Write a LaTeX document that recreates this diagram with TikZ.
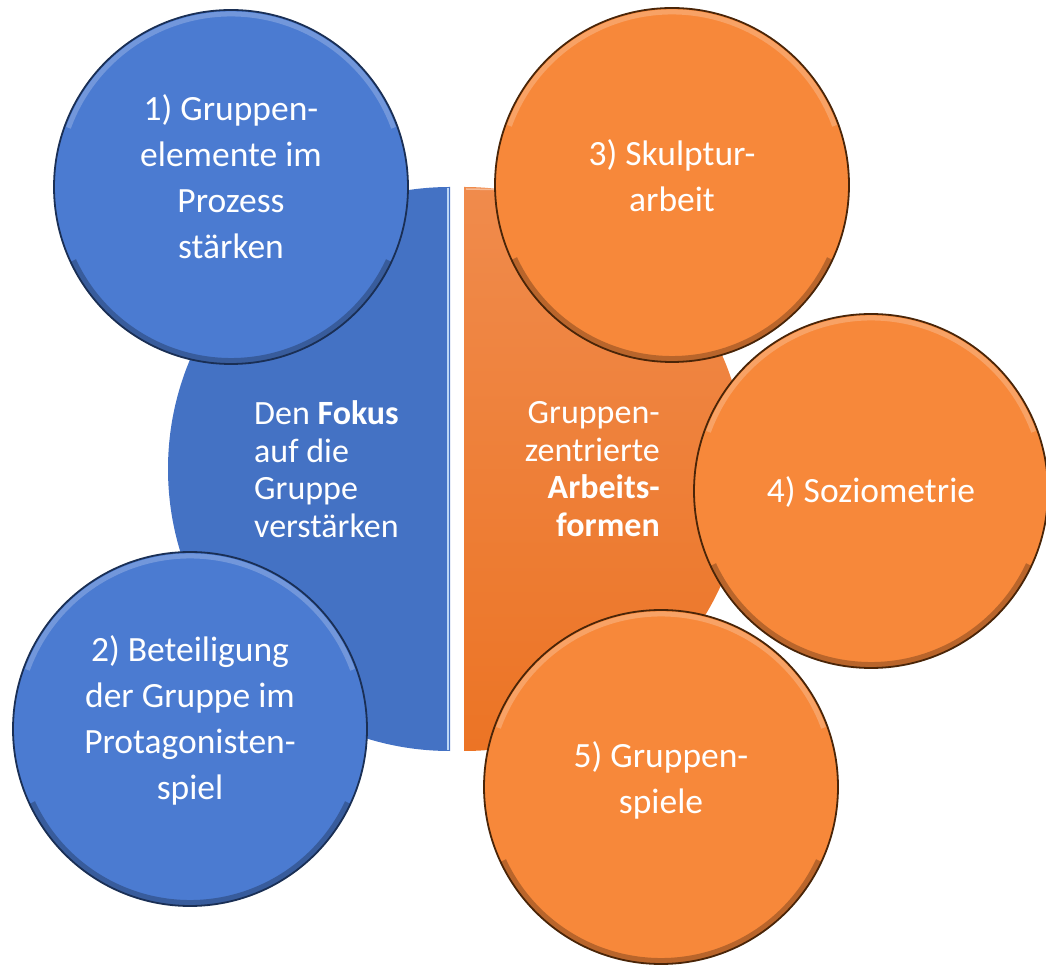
\documentclass[tikz,border=0pt]{standalone}
\usepackage{fontspec}
\setmainfont{Carlito}
\usetikzlibrary{positioning}

\definecolor{halfblue}{HTML}{4472C4}
\definecolor{bubblue}{HTML}{4B7BD1}
\definecolor{rimblue}{HTML}{1A2F55}
\definecolor{edgeblue}{HTML}{BCD6F5}
\definecolor{halforangetop}{HTML}{F08B4C}
\definecolor{halforangebot}{HTML}{EC7425}
\definecolor{bubor}{HTML}{F7883A}
\definecolor{rimor}{HTML}{4A2508}

\tikzset{
  bubble/.style={circle, minimum size=354pt, inner sep=0pt, line width=1.8pt,
    path picture={
      \draw[white, opacity=.22, line width=5pt]
        ([shift={(160:173pt)}]path picture bounding box.center)
        arc[start angle=160, end angle=20, radius=173pt];
      \draw[black, opacity=.25, line width=6pt]
        ([shift={(205:174pt)}]path picture bounding box.center)
        arc[start angle=205, end angle=335, radius=174pt];
    }},
  bubblue/.style={bubble, fill=bubblue, draw=rimblue},
  buborange/.style={bubble, fill=bubor, draw=rimor},
  bubtext/.style={text=white, align=center, inner sep=0pt,
    font=\fontsize{35.5}{46}\selectfont},
  halftext/.style={text=white, inner sep=0pt,
    font=\fontsize{34}{37.5}\selectfont}
}

\begin{document}
\begin{tikzpicture}
  [x=1pt, y=1pt]
    \useasboundingbox (0,0) rectangle (1046,964);

    % the two halves in the middle
    \fill[halfblue] (450,777) arc[start angle=90, end angle=270, radius=282] -- cycle;
    \draw[edgeblue, line width=2.5pt] (448,776) -- (448,214);
    \shade[top color=halforangetop, bottom color=halforangebot]
      (464,777) arc[start angle=90, end angle=-90, radius=282] -- cycle;
    \draw[white, opacity=.4, line width=1.5pt]
      (466,775) -- (520,774);

    \node[halftext, align=left, anchor=west] (fokus) at (254,495)
      {Den \textbf{Fokus}\\auf die\\Gruppe\\verstärken};
    \node[halftext, align=right, anchor=east] (formen) at (660,495)
      {Gruppen-\\zentrierte\\\textbf{Arbeits-}\\\textbf{formen}};

    % blue bubbles
    \node[bubblue] (b1) at (231,777) {};
    \node[bubblue] (b2) at (190,235) {};
    \node[bubtext] (b1t) at ([yshift=10pt]b1.center)
      {1) Gruppen-\\elemente im\\Prozess\\stärken};
    \node[bubtext] (b2t) at ([yshift=9pt]b2.center)
      {2) Beteiligung\\der Gruppe im\\Protagonisten-\\spiel};

    % orange bubbles
    \node[buborange] (o3) at (672,779) {};
    \node[buborange] (o4) at (871,473) {};
    \node[buborange] (o5) at (661,177) {};
    \node[bubtext] (o3t) at ([yshift=9pt]o3.center) {3) Skulptur-\\arbeit};
    \node[bubtext] (o4t) at ([yshift=-1pt]o4.center) {4) Soziometrie};
    \node[bubtext] (o5t) at ([yshift=7pt]o5.center) {5) Gruppen-\\spiele};
  \end{tikzpicture}
\end{document}
